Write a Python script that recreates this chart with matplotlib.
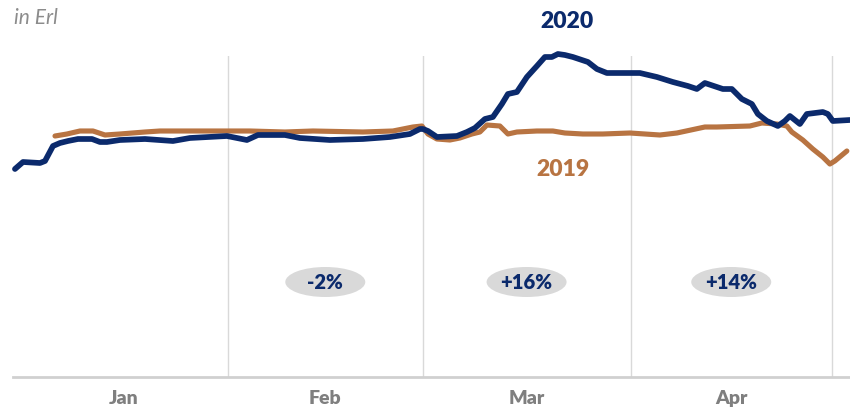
import matplotlib
matplotlib.use("Agg")
import matplotlib.pyplot as plt
from matplotlib.patches import Ellipse

plt.rcParams['font.family'] = ['Lato', 'DejaVu Sans']

# Day offsets from 1 Jan 2020 and traffic values (arbitrary Erl scale)
days_2020 = [-0.75, 0.45, 2.98, 3.73, 4.92, 5.96, 7.15, 8.64, 10.73, 11.92, 12.96, 14.9, 18.63,
             22.8, 25.33, 30.84, 33.82, 35.46, 39.49,
             41.72, 46.19, 51.11, 55.13, 58.11, 59.6,
             60.05, 60.8, 62.14, 65.12, 66.61, 67.8, 69.29, 70.48, 71.82, 72.72, 74.06,
             75.55, 77.04, 78.23, 79.27, 80.17, 81.21,
             82.4, 84.64, 85.98, 87.47, 90.9, 92.39, 94.92, 97.3, 99.54, 100.88, 102.07,
             102.52, 104.75, 106.09, 107.58, 109.07, 109.97, 111.31, 112.95, 113.99,
             114.74, 116.23, 117.27, 119.65, 120.4, 121.14, 123.67]
vals_2020 = [208, 215, 214, 216, 231, 234, 236, 238, 238, 235, 235, 237, 238,
             236, 239, 241, 237, 242, 242,
             239, 237, 238, 240, 243, 248,
             248, 246, 240, 241, 245, 249, 258, 260, 273, 283, 285,
             300, 311, 320, 320, 323, 322,
             320, 315, 308, 304, 304, 304, 300, 295, 291, 288, 294,
             293, 288, 288, 278, 273, 263, 256, 251, 256,
             261, 253, 263, 265, 263, 256, 257]

days_2019 = [5.22, 7.0, 8.94, 10.88, 12.67, 14.9, 18.63, 20.86, 25.33, 30.84, 34.27,
             39.49, 43.66, 51.11, 55.58, 58.56, 59.9, 60.8, 62.14, 64.07, 65.56, 67.35,
             68.54, 69.59, 71.52, 72.72, 74.06, 77.04, 79.42, 81.21, 83.89, 86.87, 90.9,
             95.37, 97.9, 102.07, 103.86, 108.78, 110.56, 112.8, 114.29, 115.03, 116.67,
             118.16, 119.65, 120.7, 121.44, 123.23]
vals_2019 = [241, 243, 246, 246, 242, 243, 245, 246, 246, 246, 246,
             245, 246, 245, 246, 250, 251, 243, 238, 237, 239, 243,
             245, 252, 251, 243, 245, 246, 246, 244, 243, 243, 244,
             242, 244, 250, 250, 251, 254, 253, 251, 245, 237,
             228, 220, 213, 216, 226]

month_labels = ['Jan', 'Feb', 'Mar', 'Apr']
month_starts = [0, 31, 60, 91, 121]
change_labels = ['-2%', '+16%', '+14%']

NAVY = '#0b2a6c'
ORANGE = '#b87442'
GRAY_TXT = '#7f7f7f'

fig = plt.figure(figsize=(8.5, 4.1), dpi=100)
ax = fig.add_axes([13 / 850, 32 / 410, 837 / 850, 321 / 410])
ax.set_xlim(-1.04, 123.7)
ax.set_ylim(0, 321)

for s in ['top', 'right', 'left']:
    ax.spines[s].set_visible(False)
ax.spines['bottom'].set_color('#d0d0d0')
ax.spines['bottom'].set_linewidth(2)
ax.set_yticks([])

for m in month_starts[1:]:
    ax.axvline(m, color='#d9d9d9', lw=1, zorder=0)

mids = [(month_starts[i] + month_starts[i + 1]) / 2 for i in range(4)]
ax.set_xticks(mids)
ax.set_xticklabels(month_labels, fontsize=14, fontweight='heavy', color=GRAY_TXT)
ax.tick_params(axis='x', length=0, pad=9)

ax.plot(days_2019, vals_2019, color=ORANGE, lw=3.7, solid_capstyle='round',
        solid_joinstyle='round', clip_on=False, zorder=3)
ax.plot(days_2020, vals_2020, color=NAVY, lw=4.1, solid_capstyle='round',
        solid_joinstyle='round', clip_on=False, zorder=4)

# series labels
ax.text(81.5, 378 - 22, '2020', color=NAVY, fontsize=16.5, fontweight='heavy',
        ha='center', va='center', clip_on=False)
ax.text(81.0, 378 - 170, '2019', color=ORANGE, fontsize=16.5, fontweight='heavy',
        ha='center', va='center')

# change pills
for mid, lab in zip(mids[1:], change_labels):
    e = Ellipse((mid, 95), width=80 / 6.711, height=30, facecolor='#d9d9d9',
                edgecolor='none', zorder=2)
    ax.add_patch(e)
    ax.text(mid, 95, lab, color=NAVY, fontsize=14.5, fontweight='heavy',
            ha='center', va='center', zorder=5)

fig.text(14 / 850, 1 - 18 / 410, 'in Erl', color='#8c8c8c', fontsize=15,
         style='italic', ha='left', va='center')

fig.savefig('out.png', dpi=100)
